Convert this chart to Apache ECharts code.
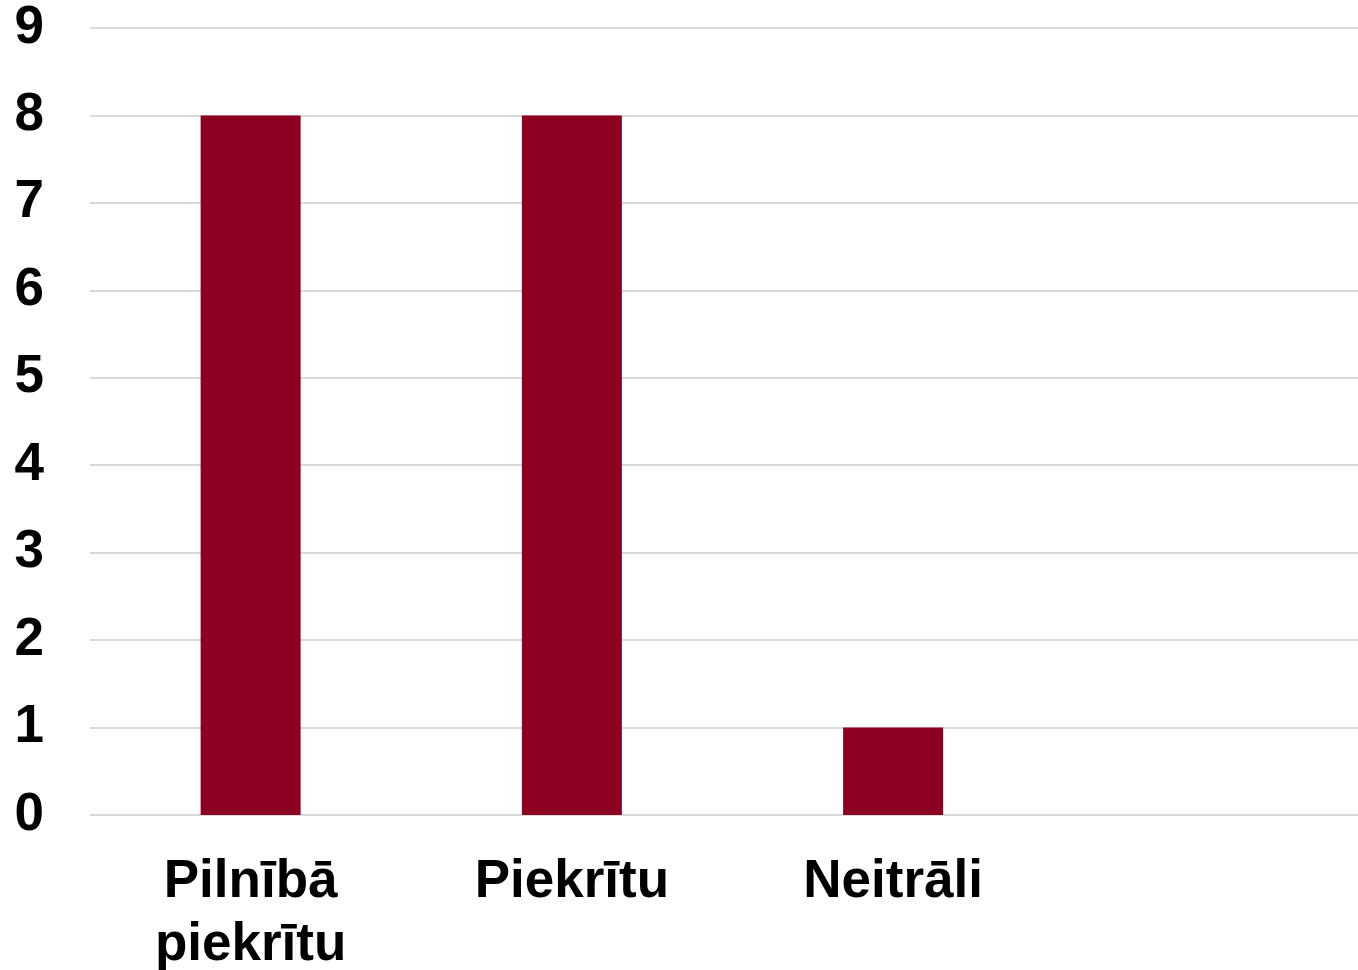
<!DOCTYPE html>
<html><head><meta charset="utf-8">
<script src="https://cdn.jsdelivr.net/npm/echarts@6/dist/echarts.min.js"></script>
<style>html,body{margin:0;padding:0;background:#fff}#c{width:1358px;height:970px}</style>
</head><body><div id="c"></div>
<script>
const categories = ['Pilnībā\npiekrītu', 'Piekrītu', 'Neitrāli', ''];
const values = [8, 8, 1, null];
const yTicks = [0, 1, 2, 3, 4, 5, 6, 7, 8, 9];

const chart = echarts.init(document.getElementById('c'), null, {renderer: 'canvas'});
chart.setOption({
  animation: false,
  grid: {left: 90, right: -17, top: 28, bottom: 155, containLabel: false, outerBoundsMode: 'none'},
  xAxis: {
    type: 'category', data: categories,
    axisLine: {show: false}, axisTick: {show: false},
    axisLabel: {fontFamily: 'Liberation Sans, Arial, sans-serif', fontWeight: 'bold', fontSize: 53, color: '#000', lineHeight: 63, margin: 36, interval: 0}
  },
  yAxis: {
    type: 'value', min: yTicks[0], max: yTicks[yTicks.length - 1], interval: 1,
    axisLine: {show: false}, axisTick: {show: false},
    splitLine: {lineStyle: {color: '#d9d9d9', width: 2}},
    axisLabel: {fontFamily: 'Liberation Sans, Arial, sans-serif', fontWeight: 'bold', fontSize: 53, color: '#000', margin: 46}
  },
  series: [{type: 'bar', data: values, barWidth: 100, itemStyle: {color: '#8c0021'}}]
});
</script></body></html>
